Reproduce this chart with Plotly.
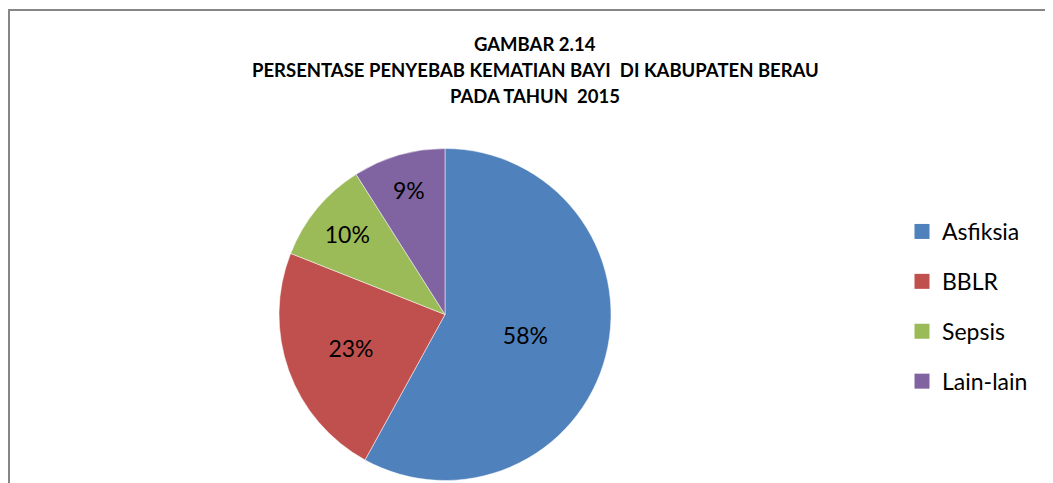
import plotly.graph_objects as go

labels = ["Asfiksia", "BBLR", "Sepsis", "Lain-lain"]
values = [58, 23, 10, 9]
colors = ["#4F81BD", "#C0504D", "#9BBB59", "#8064A2"]
title_lines = ["GAMBAR 2.14",
               "PERSENTASE PENYEBAB KEMATIAN BAYI  DI KABUPATEN BERAU",
               "PADA TAHUN  2015"]

W, H = 1053, 483
OFF = 8  # page body margin offset
FONT = "Lato"


def px(x):
    return (x - OFF) / W


def py(y):
    return (H - (y - OFF)) / H


fig = go.Figure()
fig.add_trace(go.Pie(
    labels=labels, values=values, sort=False, direction="clockwise", rotation=0,
    marker=dict(colors=colors, line=dict(color="white", width=0.5)),
    textinfo="percent", texttemplate="%{percent:.0%}", textposition="inside",
    insidetextorientation="horizontal",
    textfont=dict(family=FONT, size=23, color="black"),
    domain=dict(x=[px(445 - 166), px(445 + 166)], y=[py(481), py(148)]),
    showlegend=False, hoverinfo="label+percent",
))
for lab, col in zip(labels, colors):
    fig.add_trace(go.Scatter(
        x=[None], y=[None], mode="markers", name=lab, legendgroup=lab,
        marker=dict(symbol="square", size=15, color=col), showlegend=True,
    ))

annotations = []
for i, line in enumerate(title_lines):
    annotations.append(dict(
        text="<b>" + line + "</b>", x=px(535), y=py(44 + 26 * i),
        xref="paper", yref="paper", showarrow=False, xanchor="center", yanchor="middle",
        font=dict(family=FONT, size=18.5, color="black"),
    ))

fig.update_layout(
    width=W, height=H, margin=dict(l=0, r=0, t=0, b=0),
    paper_bgcolor="white", plot_bgcolor="white",
    xaxis=dict(visible=False), yaxis=dict(visible=False),
    legend=dict(x=px(902), y=py(210), xanchor="left", yanchor="top",
                font=dict(family=FONT, size=23, color="black"),
                tracegroupgap=17, bgcolor="rgba(0,0,0,0)"),
    annotations=annotations,
    shapes=[dict(type="rect", xref="paper", yref="paper",
                 x0=px(9), x1=1.05, y0=-0.05, y1=py(10),
                 line=dict(color="#868686", width=2), fillcolor="rgba(0,0,0,0)", layer="below")],
    showlegend=True,
)
fig.write_html("out.html")
